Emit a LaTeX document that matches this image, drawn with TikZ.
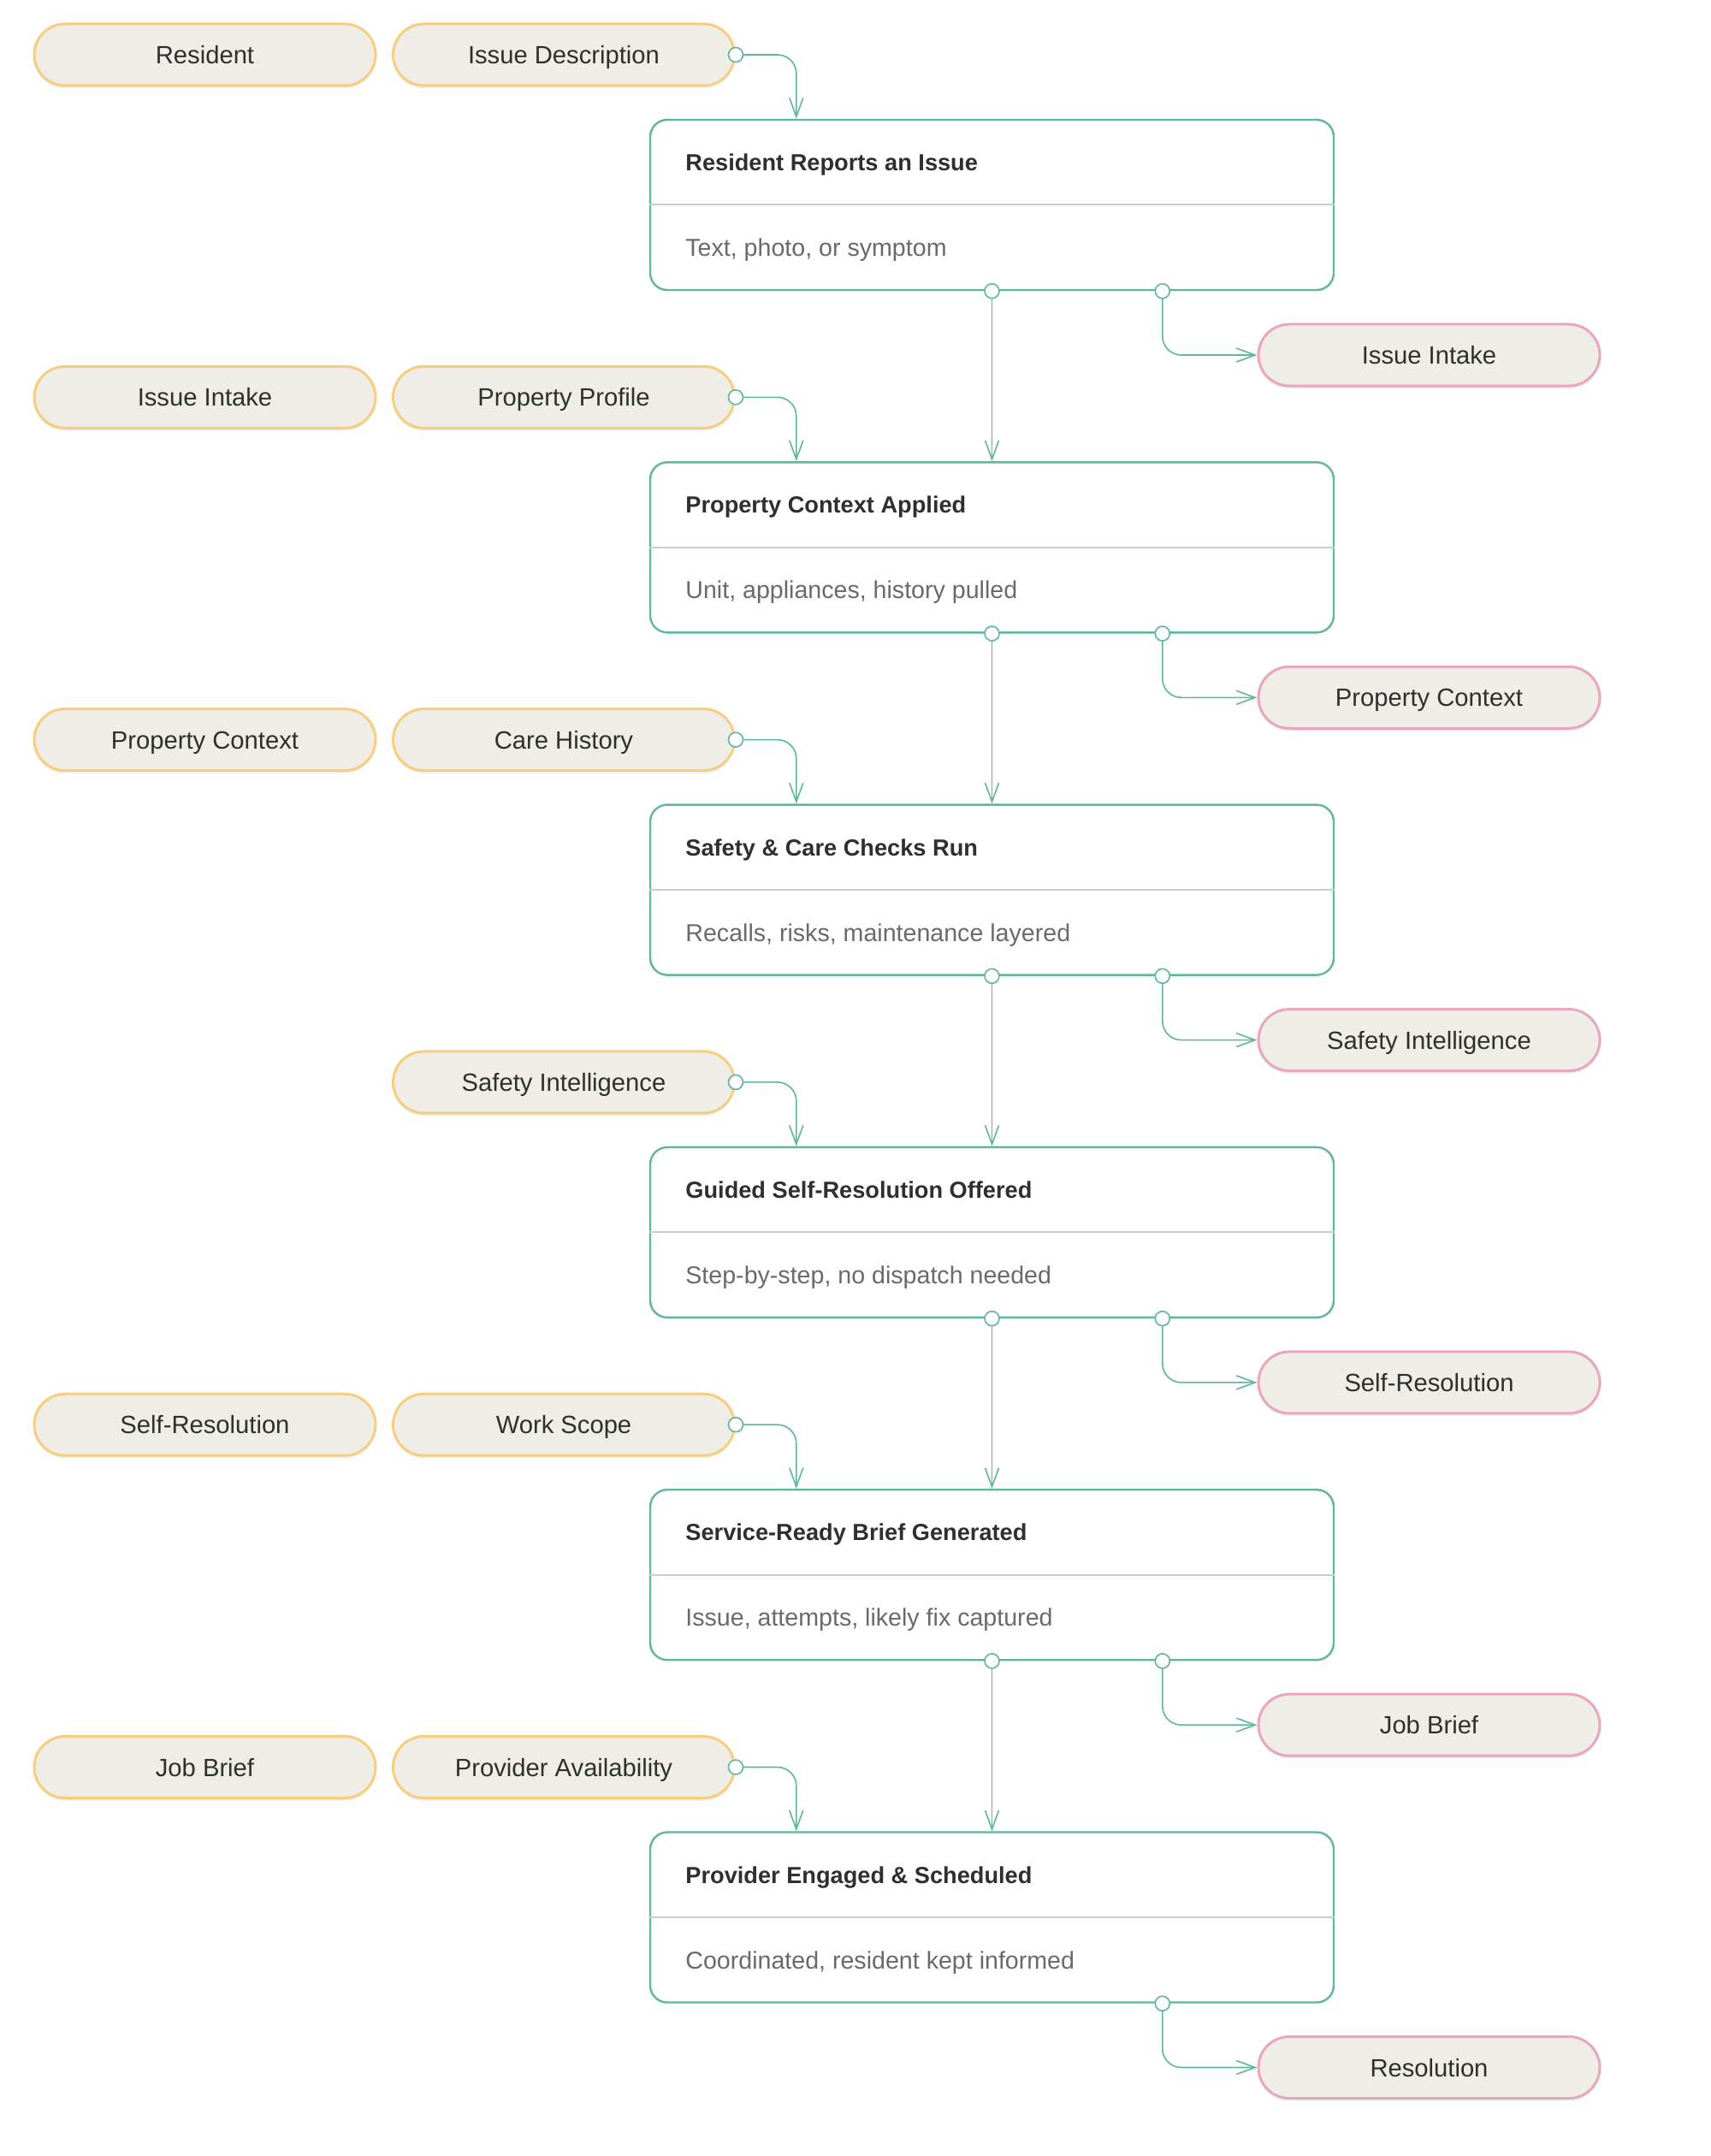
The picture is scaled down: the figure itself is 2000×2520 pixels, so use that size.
\documentclass[tikz,border=0pt]{standalone}
\usepackage{fontspec}
\setmainfont{Liberation Sans}
\usetikzlibrary{arrows.meta,calc,shadows}
\definecolor{flowgreen}{HTML}{5FB898}
\definecolor{pillfill}{HTML}{EFEEE6}
\definecolor{pillorange}{HTML}{F8CD80}
\definecolor{pillpink}{HTML}{EAA6BF}
\definecolor{textdark}{HTML}{2F2F2F}
\definecolor{textsub}{HTML}{6A6A6A}
\definecolor{divgray}{HTML}{CCCCCC}
\tikzset{
  pillbase/.style={rounded corners=18pt, line width=1.5pt, fill=pillfill,
    minimum width=199.5pt, minimum height=36pt, inner sep=0pt,
    drop shadow={shadow xshift=0pt, shadow yshift=-1.5pt, opacity=0.07, fill=black}},
  pillin/.style={pillbase, draw=pillorange},
  pillout/.style={pillbase, draw=pillpink},
  pilltext/.style={anchor=base, inner sep=0pt, font=\fontsize{14.6}{17}\selectfont, text=textdark},
  stagebox/.style={draw=flowgreen, line width=1.2pt, rounded corners=10pt, fill=white,
    minimum width=399.5pt, minimum height=99.5pt, inner sep=0pt},
  divline/.style={draw=divgray, line width=1pt},
  titletext/.style={anchor=base west, inner sep=0pt, font=\bfseries\fontsize{13.6}{16}\selectfont, text=textdark},
  subtext/.style={anchor=base west, inner sep=0pt, font=\fontsize{14.3}{17}\selectfont, text=textsub},
  conn/.style={draw=flowgreen, line width=0.8pt, rounded corners=11pt,
    -{Straight Barb[length=11pt,width=8pt,line width=0.8pt]}},
  port/.style={circle, draw=flowgreen, line width=0.8pt, fill=white, minimum size=8.5pt, inner sep=0pt},
}
\begin{document}
\begin{tikzpicture}[x=0.5pt,y=-0.5pt]
\useasboundingbox[fill=white] (0,0) rectangle (2000,2520);

% stages
\foreach \i/\ttl/\sub/\outp in {
  1/{Resident Reports an Issue}/{Text, photo, or symptom}/{Issue Intake},
  2/{Property Context Applied}/{Unit, appliances, history pulled}/{Property Context},
  3/{Safety \& Care Checks Run}/{Recalls, risks, maintenance layered}/{Safety Intelligence},
  4/{Guided Self-Resolution Offered}/{Step-by-step, no dispatch needed}/{Self-Resolution},
  5/{Service-Ready Brief Generated}/{Issue, attempts, likely fix captured}/{Job Brief},
  6/{Provider Engaged \& Scheduled}/{Coordinated, resident kept informed}/{Resolution}}{
  \pgfmathsetmacro\T{140+400.3*(\i-1)}
  \node[stagebox] (b\i) at (1159.5,\T+99.5) {};
  \draw[divline] (b\i.west) -- (b\i.east);
  \node[titletext] (t\i) at (801,\T+59.5) {\ttl};
  \node[subtext] (s\i) at (801,\T+159.5) {\sub};
  \node[pillout] (q\i) at (1670.5,\T+275) {};
  \node[pilltext] (qt\i) at (1670.5,\T+285.5) {\outp};
}

% input pills
\foreach \n/\x/\y/\txt in {
  a1/239.5/64/{Resident}, p1/659/64/{Issue Description},
  a2/239.5/464.3/{Issue Intake}, p2/659/464.3/{Property Profile},
  a3/239.5/864.6/{Property Context}, p3/659/864.6/{Care History},
  p4/659/1264.9/{Safety Intelligence},
  a5/239.5/1665.2/{Self-Resolution}, p5/659/1665.2/{Work Scope},
  a6/239.5/2065.5/{Job Brief}, p6/659/2065.5/{Provider Availability}}{
  \node[pillin] (\n) at (\x,\y) {};
  \node[pilltext] (\n t) at (\x,\y+10.5) {\txt};
}

% connectors
\foreach \i in {1,...,6}{
  \draw[conn] (p\i.east) -| ($(b\i.north west)+(172,0)$);
  \draw[conn] ($(b\i.south west)+(600,0)$) |- (q\i.west);
}
\foreach \i/\j in {1/2,2/3,3/4,4/5,5/6}{
  \draw[conn] (b\i.south) -- (b\j.north);
}

% ports
\foreach \i in {1,...,6}{
  \node[port] (ip\i) at (p\i.east) {};
  \node[port] (op\i) at ($(b\i.south west)+(600,0)$) {};
}
\foreach \i in {1,...,5}{
  \node[port] (mp\i) at (b\i.south) {};
}
\end{tikzpicture}
\end{document}
